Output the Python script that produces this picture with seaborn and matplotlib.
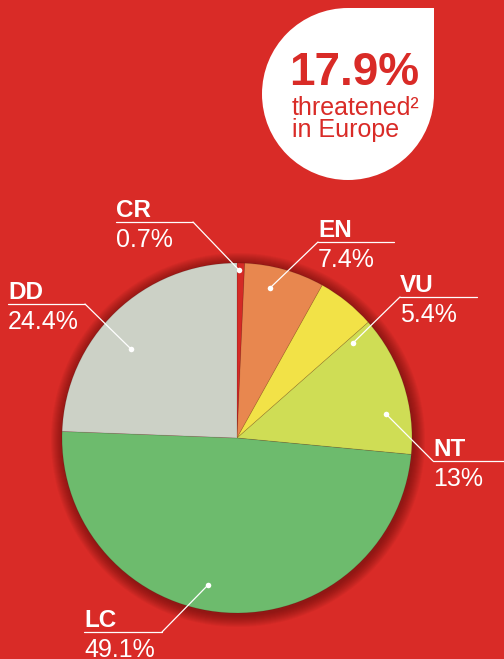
import matplotlib
matplotlib.use("Agg")
import matplotlib.pyplot as plt
import seaborn as sns
from matplotlib.patches import Circle, Rectangle

# data
categories = ['CR', 'EN', 'VU', 'NT', 'LC', 'DD']
shares = [0.7, 7.4, 5.4, 13, 49.1, 24.4]
share_labels = ['0.7%', '7.4%', '5.4%', '13%', '49.1%', '24.4%']
colors = ['#d42a26', '#e8874f', '#f2e247', '#cfdd55', '#6dbb6d', '#ccd1c6']
threatened = '17.9%'

BG = '#d92b27'
W, H = 504, 659

sns.set_style('white')
plt.rcParams['font.family'] = ['Liberation Sans', 'DejaVu Sans']

fig = plt.figure(figsize=(W / 100, H / 100), dpi=100, facecolor=BG)
ax = fig.add_axes([0, 0, 1, 1])
ax.set_facecolor(BG)

# pie centre / radius in pixel units (y measured from bottom)
cx, cy, r = 237, H - 438, 175

# soft shadow round the pie, darkest at the rim
for k in range(12, 0, -1):
    ax.add_patch(Circle((cx + 1, cy - 2), r + k, color='#4a0806', alpha=0.05, lw=0))

ax.pie(shares, colors=colors, startangle=90, counterclock=False,
       center=(cx, cy), radius=r, frame=True,
       wedgeprops=dict(lw=0.6, edgecolor=(0, 0, 0, 0.12)))

# label layout: text left x, underline y (px from top), underline length, dot
label_x = [116, 318, 400, 433, 84, 8]
line_y = [222, 242, 297, 461, 632, 304]
line_len = [77, 76, 77, 75, 78, 77]
dots = [(239, 270), (270, 288), (353, 343), (386, 414), (208, 585), (131, 349)]
left_side = [True, False, False, False, True, True]

for i, cat in enumerate(categories):
    x0, y0 = label_x[i], H - line_y[i]
    x1 = x0 + line_len[i]
    ax.plot([x0, x1], [y0, y0], color='white', lw=0.9)
    jx = x1 if left_side[i] else x0
    dx, dy = dots[i][0], H - dots[i][1]
    ax.plot([jx, dx], [y0, dy], color='white', lw=0.9)
    ax.plot(dx, dy, 'o', color='white', ms=4, mew=0)
    ax.text(x0, y0 + 5, cat, color='white', fontsize=17.5, fontweight='bold',
            ha='left', va='baseline')
    ax.text(x0, y0 - 25, share_labels[i], color='white', fontsize=18,
            ha='left', va='baseline')

# badge: circle with a square top-right corner
bx, by, br = 348, H - 94, 86
ax.add_patch(Circle((bx, by), br, color='white', lw=0))
ax.add_patch(Rectangle((bx, by), br, br, color='white', lw=0))
ax.text(289, H - 85, threatened, color=BG, fontsize=33, fontweight='bold',
        ha='left', va='baseline')
ax.text(292, H - 115, 'threatened²', color=BG, fontsize=18,
        ha='left', va='baseline')
ax.text(292, H - 137, 'in Europe', color=BG, fontsize=18,
        ha='left', va='baseline')

ax.set_xlim(0, W)
ax.set_ylim(0, H)
ax.set_aspect('equal')
ax.axis('off')

fig.savefig('out.png', dpi=100, facecolor=BG)
